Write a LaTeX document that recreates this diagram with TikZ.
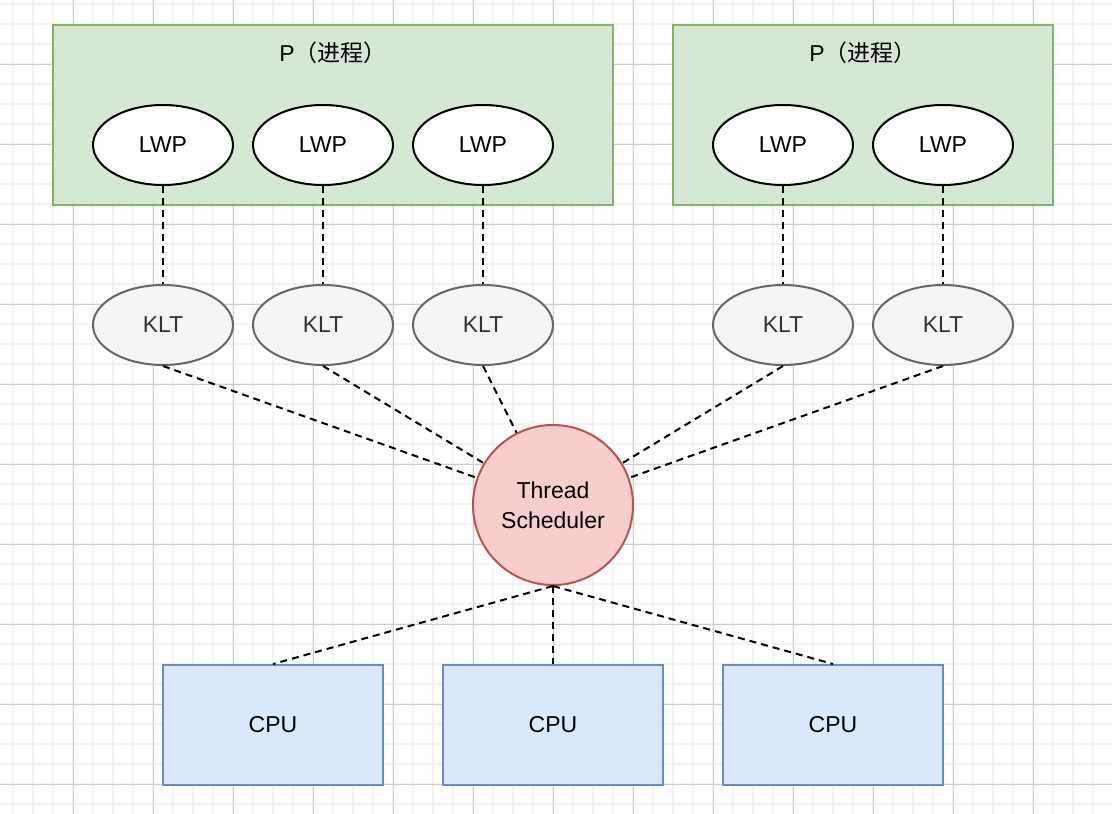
\documentclass[tikz,border=0pt]{standalone}
\usepackage{fontspec}
\setmainfont{Liberation Sans}
\newfontfamily\cjk{Noto Sans CJK SC}
\usetikzlibrary{shapes.geometric}
\definecolor{gridminor}{HTML}{F3F3F3}
\definecolor{gridmajor}{HTML}{CCCCCC}
\definecolor{procfill}{HTML}{D5E8D4}
\definecolor{procline}{HTML}{82B366}
\definecolor{kltfill}{HTML}{F5F5F5}
\definecolor{kltline}{HTML}{666666}
\definecolor{klttext}{HTML}{333333}
\definecolor{schedfill}{HTML}{F8CECC}
\definecolor{schedline}{HTML}{B85450}
\definecolor{cpufill}{HTML}{DAE8FC}
\definecolor{cpuline}{HTML}{6C8EBF}
\tikzset{
	every node/.style={font=\fontsize{23}{30}\selectfont},
	procbox/.style={rectangle,draw=procline,fill=procfill,line width=2pt,minimum width=560pt,minimum height=180pt},
	lwp/.style={ellipse,draw=black,fill=white,line width=2pt,minimum width=140pt,minimum height=80pt,inner sep=0pt},
	klt/.style={ellipse,draw=kltline,fill=kltfill,text=klttext,line width=2pt,minimum width=140pt,minimum height=80pt,inner sep=0pt},
	sched/.style={circle,draw=schedline,fill=schedfill,line width=2pt,minimum size=160pt,inner sep=0pt,align=center},
	cpu/.style={rectangle,draw=cpuline,fill=cpufill,line width=2pt,minimum width=220pt,minimum height=120pt},
	link/.style={line width=2pt,dash pattern=on 7pt off 5pt}
}
\begin{document}
\begin{tikzpicture}[x=1pt,y=-1pt]
	\useasboundingbox (0,0) rectangle (1112,814);
	% grid
	\foreach \x in {13,33,...,1093} \draw[gridminor,line width=1.5pt] (\x,0)--(\x,814);
	\foreach \y in {4,24,...,804} \draw[gridminor,line width=1.5pt] (0,\y)--(1112,\y);
	\foreach \x in {73,153,...,1073} \draw[gridmajor,line width=1pt] (\x,0)--(\x,814);
	\foreach \y in {64,144,...,784} \draw[gridmajor,line width=1pt] (0,\y)--(1112,\y);

	\node[procbox] (proc1) at (333,115) {};
	\node[procbox,minimum width=380pt] (proc2) at (863,115) {};
	\node (ptext1) at (333,53) {P{\cjk（进程）}};
	\node (ptext2) at (863,53) {P{\cjk（进程）}};

	\node[sched] (sch) at (553,505) {Thread\\Scheduler};
	\foreach \i/\x in {1/163,2/323,3/483,4/783,5/943}
	{
		\node[lwp] (lwp\i) at (\x,145) {LWP};
		\node[klt] (klt\i) at (\x,325) {KLT};
		\draw[link] (lwp\i.south)--(klt\i.north);
		\draw[link] (klt\i.south)--(sch);
	}
	\foreach \i/\x in {1/273,2/553,3/833}
	{
		\node[cpu] (cpu\i) at (\x,725) {CPU};
		\draw[link] (sch.south)--(cpu\i.north);
	}
\end{tikzpicture}
\end{document}
